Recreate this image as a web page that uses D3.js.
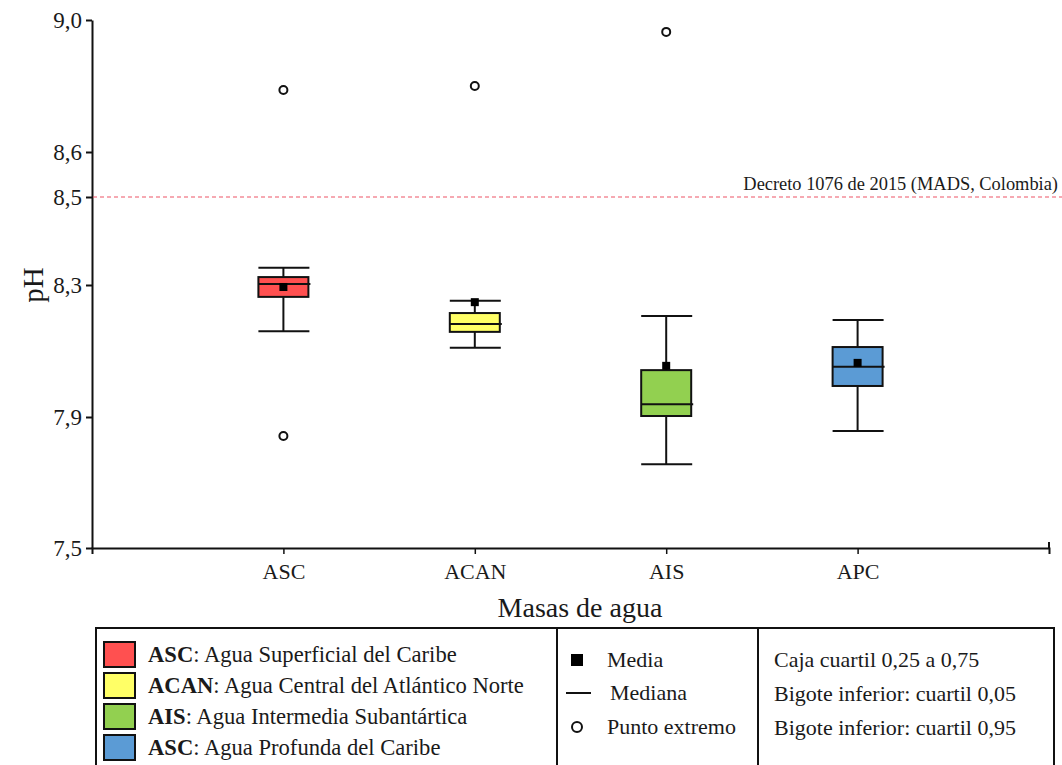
<!DOCTYPE html>
<html>
<head>
<meta charset="utf-8">
<script src="https://cdn.jsdelivr.net/npm/d3@7"></script>
<style>
  body { margin: 0; background: #fff; }
  svg { display: block; }
</style>
</head>
<body>
<svg id="chart" width="1062" height="765"></svg>
<script>
// Water masses and their pH box-plot statistics
const categories = ["ASC", "ACAN", "AIS", "APC"];
const boxColors = ["#FF5050", "#FFFF66", "#92D050", "#5B9BD5"];
const whiskerLow  = [8.160, 8.110, 7.756, 7.857];
const q1          = [8.264, 8.158, 7.903, 7.994];
const median      = [8.302, 8.182, 7.939, 8.052];
const q3          = [8.318, 8.215, 8.042, 8.112];
const whiskerHigh = [8.339, 8.252, 8.206, 8.194];
const mean        = [8.294, 8.248, 8.055, 8.064];
const extremes    = [[7.842, 8.788], [8.800], [8.964], []];

// Axis ticks and the regulatory limit
const yTicks = [7.5, 7.9, 8.3, 8.5, 8.6, 9.0];
const limitValue = 8.5;
const limitLabel = "Decreto 1076 de 2015 (MADS, Colombia)";

// Legend contents
const legendAbbr = ["ASC", "ACAN", "AIS", "ASC"];
const legendNames = [": Agua Superficial del Caribe", ": Agua Central del Atlántico Norte",
                     ": Agua Intermedia Subantártica", ": Agua Profunda del Caribe"];
const symbolLabels = ["Media", "Mediana", "Punto extremo"];
const statNotes = ["Caja cuartil 0,25 a 0,75", "Bigote inferior: cuartil 0,05", "Bigote inferior: cuartil 0,95"];

const SERIF = "'Liberation Serif', 'Times New Roman', serif";
const svg = d3.select("#chart").attr("font-family", SERIF);
const fmt = v => d3.format(".1f")(v).replace(".", ",");

// The printed axis is piecewise: each tick interval has its own spacing
const y = d3.scaleLinear().domain(yTicks).range([548, 417, 285, 197, 152, 20]);
const x = d3.scaleLinear().domain([0, 5]).range([92, 1049]);
const boxW = 50;

// Y axis
const yAxis = svg.append("g").attr("transform", `translate(${x(0)},0)`)
  .call(d3.axisLeft(y).tickValues(yTicks).tickFormat(fmt).tickSize(6).tickSizeOuter(0).tickPadding(4));
yAxis.select(".domain").attr("stroke", "#111").attr("stroke-width", 2);
yAxis.selectAll(".tick line").attr("stroke", "#111").attr("stroke-width", 2);
yAxis.selectAll(".tick text").style("font-size", "23px");

// X axis
const xAxis = svg.append("g").attr("transform", `translate(0,${y(7.5)})`)
  .call(d3.axisBottom(x).tickValues([1, 2, 3, 4]).tickFormat(i => categories[i - 1])
    .tickSize(6).tickSizeOuter(6).tickPadding(9));
xAxis.select(".domain").attr("stroke", "#111").attr("stroke-width", 2);
xAxis.selectAll(".tick line").attr("stroke", "#111").attr("stroke-width", 1.5);
xAxis.selectAll(".tick text").style("font-size", "22px");
xAxis.append("line").attr("x1", x(5)).attr("x2", x(5)).attr("y1", -6).attr("y2", 0)
  .attr("stroke", "#111").attr("stroke-width", 2);

// Axis titles
svg.append("text").attr("transform", `translate(43,${y(8.3)}) rotate(-90)`)
  .attr("text-anchor", "middle").style("font-size", "29px").text("pH");
svg.append("text").attr("x", 580).attr("y", 617).attr("text-anchor", "middle")
  .style("font-size", "28px").text("Masas de agua");

// Regulatory limit line
svg.append("line").attr("x1", x(0) + 1).attr("x2", 1062)
  .attr("y1", y(limitValue)).attr("y2", y(limitValue))
  .attr("stroke", "#EE5566").attr("stroke-width", 1.2).attr("stroke-dasharray", "4,3");
svg.append("text").attr("x", 1058).attr("y", y(limitValue) - 7).attr("text-anchor", "end")
  .style("font-size", "18.4px").text(limitLabel);

// Box plots
const g = svg.append("g");
categories.forEach((c, i) => {
  const cx = x(i + 1);
  const stroke = "#111";
  // whisker stem
  g.append("line").attr("x1", cx).attr("x2", cx).attr("y1", y(whiskerHigh[i])).attr("y2", y(whiskerLow[i]))
    .attr("stroke", stroke).attr("stroke-width", 2);
  // whisker caps
  [whiskerLow[i], whiskerHigh[i]].forEach(v => {
    g.append("line").attr("x1", cx - boxW / 2).attr("x2", cx + boxW / 2 + 1)
      .attr("y1", y(v)).attr("y2", y(v)).attr("stroke", stroke).attr("stroke-width", 2);
  });
  // box
  g.append("rect").attr("x", cx - boxW / 2).attr("y", y(q3[i]))
    .attr("width", boxW).attr("height", y(q1[i]) - y(q3[i]))
    .attr("fill", boxColors[i]).attr("stroke", stroke).attr("stroke-width", 2);
  // median
  g.append("line").attr("x1", cx - boxW / 2).attr("x2", cx + boxW / 2 + 2)
    .attr("y1", y(median[i])).attr("y2", y(median[i])).attr("stroke", stroke).attr("stroke-width", 2);
  // mean
  g.append("rect").attr("x", cx - 4).attr("y", y(mean[i]) - 4).attr("width", 8).attr("height", 8)
    .attr("fill", "#000");
  // extreme points
  extremes[i].forEach(v => {
    g.append("circle").attr("cx", cx).attr("cy", y(v)).attr("r", 4)
      .attr("fill", "#fff").attr("stroke", "#111").attr("stroke-width", 2);
  });
});

// Legend frame
const lg = svg.append("g");
lg.append("rect").attr("x", 96).attr("y", 628).attr("width", 958).attr("height", 150)
  .attr("fill", "none").attr("stroke", "#111").attr("stroke-width", 2);
[557, 758].forEach(px => lg.append("line").attr("x1", px).attr("x2", px).attr("y1", 628).attr("y2", 765)
  .attr("stroke", "#111").attr("stroke-width", 2));

// Water mass swatches
legendAbbr.forEach((a, i) => {
  const top = 642 + i * 31;
  lg.append("rect").attr("x", 104).attr("y", top).attr("width", 31).attr("height", 25)
    .attr("fill", boxColors[i]).attr("stroke", "#111").attr("stroke-width", 2);
  const t = lg.append("text").attr("x", 148).attr("y", top + 20).style("font-size", "22.6px");
  t.append("tspan").style("font-weight", "bold").text(a);
  t.append("tspan").text(legendNames[i]);
});

// Symbol key
const symY = [660, 693, 727];
lg.append("rect").attr("x", 571).attr("y", symY[0] - 6).attr("width", 12).attr("height", 12).attr("fill", "#000");
lg.append("line").attr("x1", 566).attr("x2", 591).attr("y1", symY[1]).attr("y2", symY[1])
  .attr("stroke", "#111").attr("stroke-width", 2);
lg.append("circle").attr("cx", 577).attr("cy", symY[2]).attr("r", 5)
  .attr("fill", "#fff").attr("stroke", "#111").attr("stroke-width", 2);
symbolLabels.forEach((s, i) => {
  lg.append("text").attr("x", i === 1 ? 610 : 607).attr("y", symY[i] + 7).style("font-size", "22px").text(s);
});

// Statistics notes
statNotes.forEach((s, i) => {
  lg.append("text").attr("x", 774).attr("y", 667 + i * 34).style("font-size", "22px").text(s);
});

// One serif face and ink colour for every label, including the axis ticks
svg.selectAll("text").style("font-family", SERIF).attr("fill", "#1a1a1a");
</script>
</body>
</html>
